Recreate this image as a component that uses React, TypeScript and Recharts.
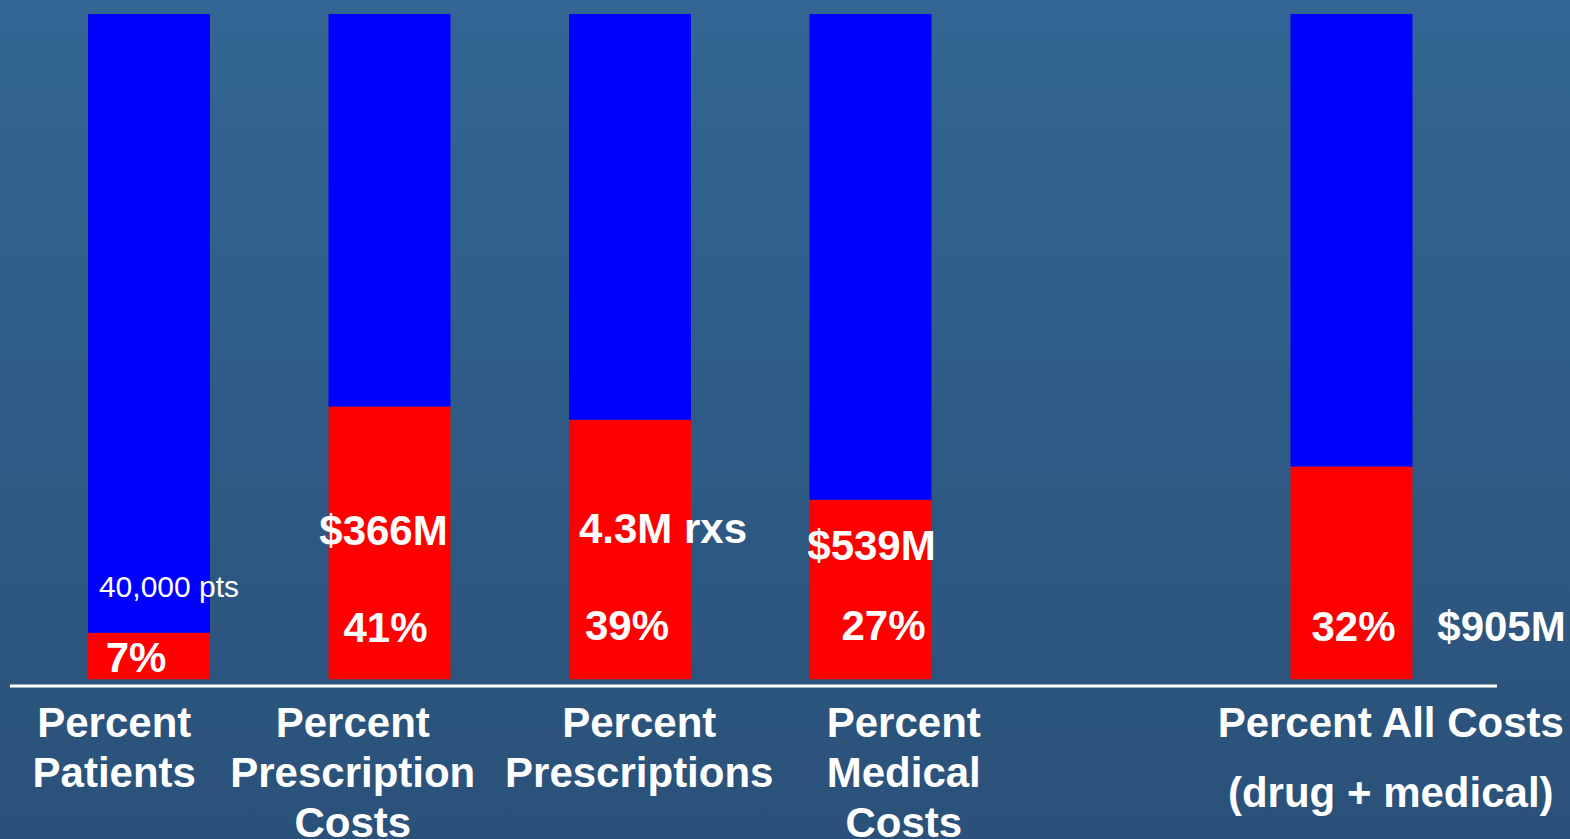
import { BarChart, Bar, XAxis, YAxis, LabelList } from "recharts";

// share of the subgroup (red) vs everyone else (blue), in percent
const categoryKeys = ["patients", "rxCosts", "rxCount", "medCosts", "gap", "allCosts"];
const tickLines = [
    ["Percent", "Patients"],
    ["Percent", "Prescription", "Costs"],
    ["Percent", "Prescriptions"],
    ["Percent", "Medical", "Costs"],
    [],
    ["Percent All Costs", "(drug + medical)"],
];
const sharePct = [7, 41, 39, 27, null, 32];
const restPct = [93, 59, 61, 73, null, 68];
const shareLabels = ["7%", "41%", "39%", "27%", "", "32%"];
const totals = ["40,000 pts", "$366M", "4.3M rxs", "$539M", "", "$905M"];

// label placement, relative to the bar centre / bar bottom
const pctSpot = [[-13, 7], [-4, 37], [-3, 39], [13, 39], [0, 0], [2, 38]];
const noteSpot = [[20, 82], [-6, 134], [33, 136], [1, 119], [0, 0], [150, 38]];
const tickNudge = [-35, -37, 9, 33, 0, 39];
const tickGap = [50, 50, 50, 50, 50, 70];

const data = categoryKeys.map((k, i) => ({ name: k, share: sharePct[i], rest: restPct[i] }));

const FONT = "'Liberation Sans', Arial, sans-serif";

function ShareLabel(props: any) {
    const { x, y, width, height, value } = props;
    const index = categoryKeys.indexOf(value);
    if (index < 0 || sharePct[index] == null || x == null) return null;
    const cx = x + width / 2;
    const bottom = y + height;
    const [pdx, prise] = pctSpot[index];
    const [ndx, nrise] = noteSpot[index];
    const small = index === 0;
    return (
        <g fontFamily={FONT} fill="#ffffff">
            <text x={cx + pdx} y={bottom - prise} textAnchor="middle" fontSize={42} fontWeight="bold">{shareLabels[index]}</text>
            <text x={cx + ndx} y={bottom - nrise} textAnchor="middle" fontSize={small ? 30 : 42} fontWeight={small ? "normal" : "bold"}>{totals[index]}</text>
        </g>
    );
}

function CategoryTick({ x, y, index }: any) {
    const lines = tickLines[index] ?? [];
    return (
        <g fontFamily={FONT} fill="#ffffff" fontSize={42} fontWeight="bold">
            {lines.map((line, i) => (
                <text key={i} x={x + tickNudge[index]} y={y + 51 + i * tickGap[index]} textAnchor="middle">{line}</text>
            ))}
        </g>
    );
}

export default function App() {
    return (
        <div style={{ position: "absolute", left: 0, top: 0, width: 1570, height: 839, overflow: "hidden", background: "linear-gradient(to bottom, #336694, #2a5179)" }}>
            <BarChart width={1570} height={839} data={data} margin={{ top: 14, right: 73, left: 10, bottom: 0 }} barSize={122}>
                <XAxis dataKey="name" height={153} padding={{ left: 19, right: 25 }} axisLine={{ stroke: "#ffffff", strokeWidth: 3 }} tickLine={false} tickSize={0} tickMargin={0} interval={0} tick={<CategoryTick />} />
                <YAxis hide domain={[-1, 100]} allowDataOverflow />
                <Bar dataKey="share" stackId="s" fill="#ff0000" isAnimationActive={false}>
                    <LabelList dataKey="name" content={<ShareLabel />} />
                </Bar>
                <Bar dataKey="rest" stackId="s" fill="#0000ff" isAnimationActive={false} />
            </BarChart>
        </div>
    );
}
